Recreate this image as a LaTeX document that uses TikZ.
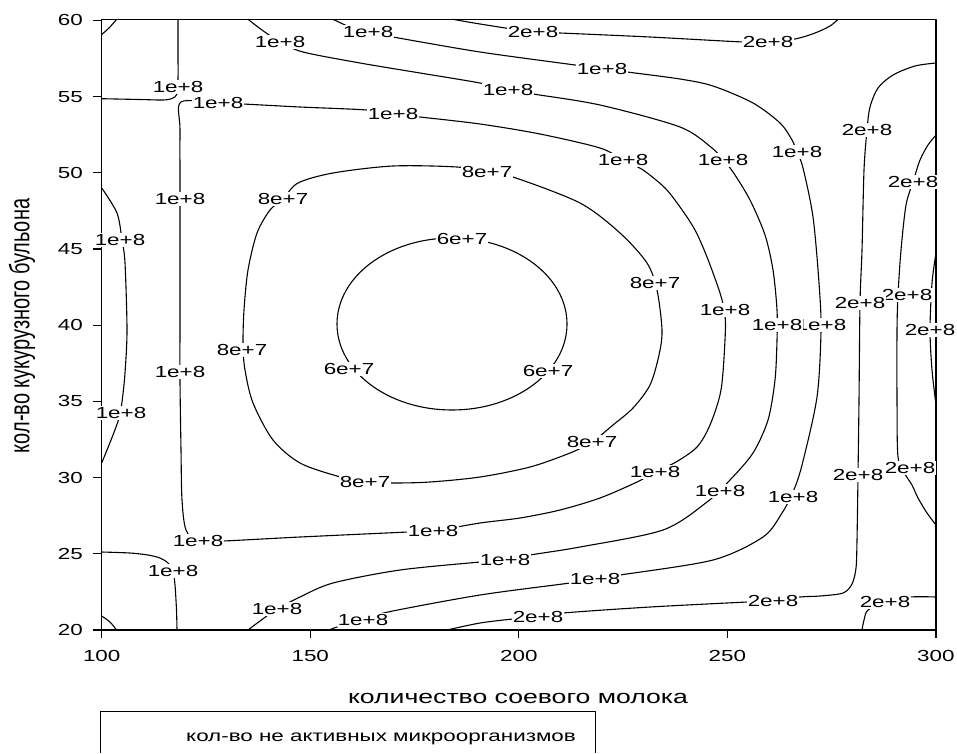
\documentclass[tikz,border=0pt]{standalone}
\usepackage{fontspec}
\setmainfont{Liberation Sans}
\usepackage{graphicx}

\newcommand{\wide}[1]{\scalebox{1.4}[1]{#1}}
\newcommand{\plotfont}{\fontsize{16}{19}\selectfont}
\newcommand{\titlefont}{\fontsize{19}{23}\selectfont}

\tikzset{
  frame/.style={line width=1.3pt},
  contour/.style={line width=1.1pt},
  clabel/.style={fill=white, inner sep=1pt, font=\plotfont},
  ticklabel/.style={inner sep=0pt, font=\plotfont},
}

\begin{document}
\begin{tikzpicture}[x=1pt, y=-1pt, line join=round]
  \useasboundingbox (0,0) rectangle (957,753);

  % Rahmen und Achsen
  \draw[frame] (101.7,19.3) rectangle (936,630);
  \foreach \v in {20,25,...,60} {
    \pgfmathsetmacro{\py}{630-(\v-20)*15.24}
    \draw[frame] (92.7,\py) -- (101.7,\py);
    \node[ticklabel, anchor=east] at (83,\py) {\wide{\v}};
  }
  \foreach \v in {100,150,...,300} {
    \pgfmathsetmacro{\px}{101.7+(\v-100)*4.171}
    \draw[frame] (\px,630) -- (\px,638);
    \node[ticklabel] at (\px,656) {\wide{\v}};
  }
  \node[ticklabel, font=\titlefont, anchor=base] (xlab) at (518,703) {\wide{количество соевого молока}};
  \node[ticklabel, font=\fontsize{20}{24}\selectfont, rotate=90] (ylab) at (22,326) {\scalebox{1}[1.4]{кол-во кукурузного бульона}};

  % Legende
  \draw[line width=0.8pt] (100,753) -- (100,711) -- (595,711) -- (595,753);
  \node[ticklabel, anchor=base] (legend) at (381,741) {\wide{кол-во не активных микроорганизмов}};

  % Isolinien
  \draw[contour] plot[smooth] coordinates {(101.7,34.5) (109,28) (116.7,19.3)};
  \draw[contour] plot[smooth] coordinates {(101.7,616) (110,622) (116.5,630)};
  \draw[contour] plot[smooth] coordinates {(101.7,98.7) (140,99.5) (163,100) (172,98.5) (177,94) (178,80) (178,50) (178,19.3)};
  \draw[contour] plot[smooth] coordinates {(101.7,188) (117,213) (122,240) (125,263) (127,330) (125,373) (122,402) (119,418) (113,435) (101.7,463)};
  \draw[contour] plot[smooth] coordinates {(101.7,552) (130,553) (148,555) (160,558) (168,563) (173,571) (175,585) (176.5,610) (177,630)};
  % 6e+7
  \draw[contour] (452,324) ellipse[x radius=115, y radius=86];
  % 8e+7
  \draw[contour] plot[smooth cycle] coordinates {(283,199) (298,183) (333,173) (393,166) (457,167) (487,172) (513,177) (580,203) (620,233) (647,263) (657,290) (662,330) (659,355) (650,385) (633,408) (613,425) (592,442) (570,453) (530,467) (480,477) (430,482) (393,483) (365,482) (337,476) (300,463) (273,440) (253,403) (245,370) (243,345) (244,310) (248,270) (257,233) (270,210)};
  % 1e+8 (geschlossen)
  \draw[contour] plot[smooth cycle] coordinates {(181,102) (218,103) (243,104) (300,107) (367,110) (393,114) (420,117) (480,124) (540,134) (600,148) (623,160) (643,170) (665,188) (680,207) (695,230) (707,257) (720,293) (725,315) (725,340) (721,390) (710,425) (697,447) (676,462) (655,472) (637,482) (600,498) (560,510) (520,518) (480,523) (433,531) (408,532) (300,537) (223,541) (198,541) (186,530) (182,500) (181,450) (180,380) (180,300) (180,199) (180,130)};
  % 1e+8 offen
  \draw[contour] plot[smooth] coordinates {(248,19.3) (262,30) (280,42) (303,52) (360,63) (420,73) (480,83) (508,90) (533,94) (600,105) (680,127) (712,148) (723,160) (733,172) (750,200) (765,235) (773,270) (777,310) (777,340) (775,380) (768,420) (753,453) (730,480) (707,502) (663,530) (580,547) (530,555) (505,560) (480,562) (400,570) (333,583) (300,597) (277,609) (260,621) (248,630)};
  \draw[contour] plot[smooth] coordinates {(333,19.3) (350,27) (368,32) (393,37) (480,52) (575,65) (602,69) (627,72) (680,79) (713,86) (753,103) (780,123) (792,140) (797,152) (803,168) (813,217) (819,283) (821,330) (817,397) (802,465) (793,492) (782,513) (763,537) (713,560) (620,575) (595,579) (570,583) (480,595) (388,612) (363,620) (340,626) (329,630)};
  % 2e+8
  \draw[contour] plot[smooth] coordinates {(453,19.3) (480,24) (533,32) (560,33) (650,37) (743,42) (768,42) (795,39) (815,33) (830,26) (838,19.3)};
  \draw[contour] plot[smooth] coordinates {(936,63) (915,66) (893,75) (878,88) (870,107) (867,130) (864,170) (862,250) (860,303) (859,400) (858,475) (857,540) (856,568) (852,584) (843,593) (820,596) (800,597) (773,601) (747,602) (650,607) (563,613) (538,617) (513,619) (480,623) (447,630)};
  \draw[contour] plot[smooth] coordinates {(936,135) (928,145) (920,160) (913,182) (906,205) (901,250) (898,295) (897,330) (897,400) (898,457) (905,474) (912,485) (918,498) (927,513) (936,525)};
  \draw[contour] plot[smooth] coordinates {(936,253) (932,283) (930,330) (932,370) (936,405)};
  \draw[contour] plot[smooth] coordinates {(936,597) (910,597) (885,602) (868,610) (864,620) (862,630)};

  % Beschriftungen der Isolinien
  \foreach \x/\y/\t in {
      178/87/1e+8, 218/103/1e+8, 120/240/1e+8, 121/413/1e+8, 173/571/1e+8,
      462/239/6e+7, 349/369/6e+7, 548/371/6e+7,
      487/172/8e+7, 655/283/8e+7, 592/442/8e+7, 365/482/8e+7, 242/350/8e+7, 283/199/8e+7,
      393/114/1e+8, 623/160/1e+8, 725/310/1e+8, 655/472/1e+8, 433/531/1e+8, 198/541/1e+8, 180/372/1e+8, 180/199/1e+8,
      280/42/1e+8, 508/90/1e+8, 723/160/1e+8, 720/491/1e+8, 505/560/1e+8, 277/609/1e+8,
      368/32/1e+8, 602/69/1e+8, 797/152/1e+8, 821/325/1e+8, 793/497/1e+8, 595/579/1e+8, 363/620/1e+8,
      533/32/2e+8, 768/42/2e+8,
      913/182/2e+8, 907/295/2e+8, 910/468/2e+8, 930/330/2e+8, 885/602/2e+8,
      867/130/2e+8, 860/303/2e+8, 858/475/2e+8, 773/601/2e+8, 538/617/2e+8,
      777/325/1e+8}
    \node[clabel] at (\x,\y) {\wide{\t}};
\end{tikzpicture}
\end{document}
